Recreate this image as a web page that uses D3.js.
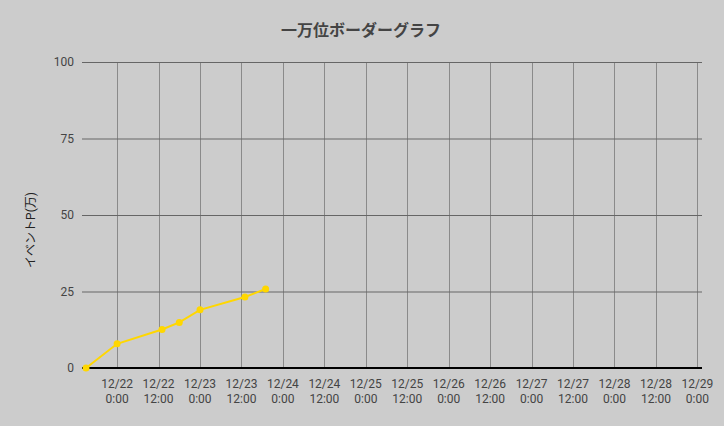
<!DOCTYPE html>
<html>
  <head>
    <meta charset="utf-8">
    <title>一万位ボーダーグラフ</title>
    <script src="https://d3js.org/d3.v7.min.js"></script>
    <style>
      body { margin: 0; background: #cccccc; }
      #chart { display: block; width: 724px; height: 426px; background: #cccccc; }
      text { font-family: Roboto, "Noto Sans CJK JP", sans-serif; fill: #444444; }
      #title { font-size: 16px; font-weight: bold; }
      .axisLabel { font-size: 12px; fill: #222222; }
      .tick text { font-size: 12px; }
    </style>
  </head>
  <body>
    <svg id="chart">
      <text id="title" x=361 y=36 text-anchor="middle">一万位ボーダーグラフ</text>
      <g id="xGrid"></g>
      <g id="yGrid"></g>
      <g id="xAxisGroup"></g>
      <line id="baseLine"></line>
      <text class="axisLabel" id="yLabel" text-anchor="middle">イベントP(万)</text>
      <path id="border"></path>
      <g id="dots"></g>
    </svg>
    <script>
      // data
      times = ["2023-12-21 15:00", "2023-12-22 00:00", "2023-12-22 13:00", "2023-12-22 18:00",
               "2023-12-23 00:00", "2023-12-23 13:00", "2023-12-23 19:00"];
      points = [0, 7.9, 12.6, 14.9, 19.0, 23.2, 25.8];
      xTicks = ["2023-12-22 00:00", "2023-12-22 12:00", "2023-12-23 00:00", "2023-12-23 12:00",
                "2023-12-24 00:00", "2023-12-24 12:00", "2023-12-25 00:00", "2023-12-25 12:00",
                "2023-12-26 00:00", "2023-12-26 12:00", "2023-12-27 00:00", "2023-12-27 12:00",
                "2023-12-28 00:00", "2023-12-28 12:00", "2023-12-29 00:00"];
      yTicks = [0, 25, 50, 75, 100];
      xRange = ["2023-12-21 13:50", "2023-12-29 01:20"];

      parse = d3.timeParse("%Y-%m-%d %H:%M");
      borderData = times.map(function(t, i) { return { date: parse(t), value: points[i] }; });
      tickDates = xTicks.map(parse);

      margin = { top: 62, right: 22, bottom: 58, left: 82 };
      width = 724;
      height = 426;
      x = d3.scaleTime()
        .domain(xRange.map(parse))
        .range([margin.left, width - margin.right]);
      y = d3.scaleLinear()
        .domain([0, 100])
        .range([height - margin.bottom, margin.top]);

      // vertical gridlines
      d3.select("#xGrid").selectAll("line")
        .data(tickDates)
        .join("line")
          .attr("x1", function(d) { return Math.round(x(d)) + 0.5; })
          .attr("x2", function(d) { return Math.round(x(d)) + 0.5; })
          .attr("y1", y(100))
          .attr("y2", y(0))
          .attr("stroke", "#8a8a8a")
          .attr("stroke-width", 1);

      // horizontal gridlines + y labels
      yAxis = d3.axisLeft(y)
        .tickValues(yTicks)
        .tickSize(margin.left + margin.right - width)
        .tickPadding(8);
      d3.select("#yGrid")
        .attr("transform", "translate(" + margin.left + ", 0)")
        .call(yAxis)
        .call(function(g) { g.select(".domain").remove(); })
        .call(function(g) { g.selectAll(".tick line").attr("stroke", "#666666"); })
        .call(function(g) { g.selectAll(".tick text").attr("fill", "#444444").attr("x", -8); });

      // x labels, two lines each
      xLabels = d3.select("#xAxisGroup").selectAll("text")
        .data(tickDates)
        .join("text")
          .attr("class", "tick")
          .attr("text-anchor", "middle")
          .style("font-size", "12px")
          .attr("x", function(d) { return x(d); })
          .attr("y", y(0) + 20);
      xLabels.append("tspan")
        .attr("x", function(d) { return x(d); })
        .text(d3.timeFormat("%m/%d"));
      xLabels.append("tspan")
        .attr("x", function(d) { return x(d); })
        .attr("dy", 15)
        .text(function(d) { return d.getHours() + ":" + d3.timeFormat("%M")(d); });

      d3.select("#baseLine")
        .attr("x1", margin.left)
        .attr("x2", width - margin.right)
        .attr("y1", y(0))
        .attr("y2", y(0))
        .attr("stroke", "#000000")
        .attr("stroke-width", 2);

      d3.select("#yLabel")
        .attr("transform", "translate(35, 230) rotate(-90)");

      // line + dots
      line = d3.line()
        .x(function(d) { return x(d.date); })
        .y(function(d) { return y(d.value); });
      d3.select("#border")
        .attr("d", line(borderData))
        .attr("fill", "none")
        .attr("stroke", "#ffd700")
        .attr("stroke-width", 2);
      d3.select("#dots").selectAll("circle")
        .data(borderData)
        .join("circle")
          .attr("cx", function(d) { return x(d.date); })
          .attr("cy", function(d) { return y(d.value); })
          .attr("r", 3.5)
          .attr("fill", "#ffd700");
    </script>
  </body>
</html>
